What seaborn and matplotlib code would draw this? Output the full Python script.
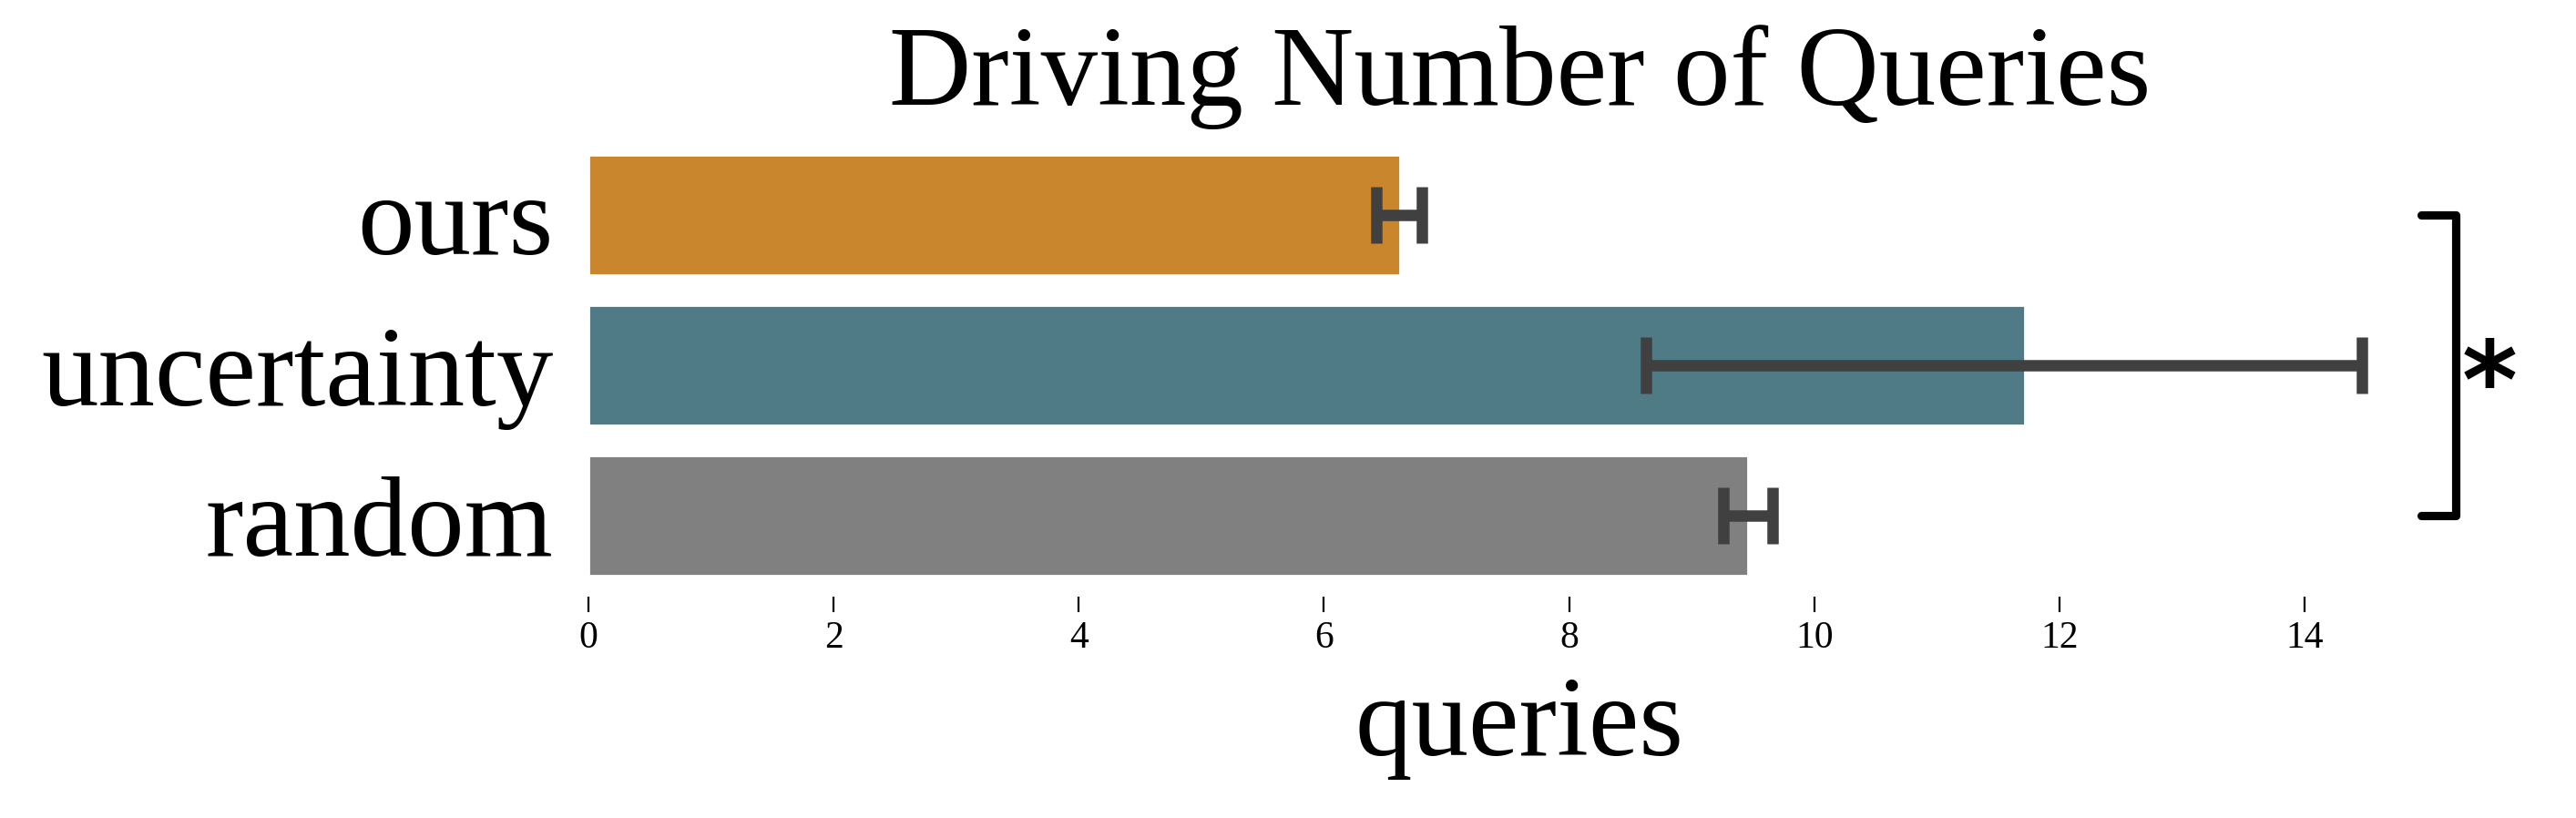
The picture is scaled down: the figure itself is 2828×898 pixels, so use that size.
import numpy as np
import matplotlib
matplotlib.use("Agg")
import matplotlib.pyplot as plt
import seaborn as sns

# values
methods = ["ours", "uncertainty", "random"]
mean_queries = [6.62, 11.72, 9.46]
ci_low = [6.43, 8.63, 9.26]
ci_high = [6.80, 14.47, 9.66]
bar_colors = ["#c9862d", "#4e7b85", "#808080"]
x_ticks = [0, 2, 4, 6, 8, 10, 12, 14]

sns.set_theme(style="white")
plt.rcParams["font.family"] = ["Liberation Serif", "DejaVu Serif"]
plt.rcParams["text.color"] = "black"
plt.rcParams["axes.labelcolor"] = "black"
plt.rcParams["xtick.color"] = "black"
plt.rcParams["ytick.color"] = "black"

fig = plt.figure(figsize=(14.14, 4.49), dpi=200)
ax = fig.add_axes([0.2284, 0.2703, 0.7231, 0.5663])

sns.barplot(x=mean_queries, y=methods, hue=methods, palette=bar_colors,
            saturation=1, legend=False, errorbar=None, orient="h",
            width=0.8, ax=ax)

# error bars (precomputed intervals)
mean_arr = np.array(mean_queries)
xerr = np.vstack([mean_arr - np.array(ci_low), np.array(ci_high) - mean_arr])
ax.errorbar(mean_arr, np.arange(len(methods)), xerr=xerr, fmt="none",
            ecolor="#404040", elinewidth=4.5, capsize=11.2, capthick=4.5)

ax.set_xticks(x_ticks)
ax.tick_params(axis="x", labelsize=15, length=6, width=0.8, color="black",
               labelcolor="black", pad=3.5, bottom=True)
ax.tick_params(axis="y", labelsize=45, length=0, pad=13.7, labelcolor="black")
for s in ax.spines.values():
    s.set_visible(False)

ax.set_title("Driving Number of Queries", fontsize=45, pad=11.5, color="black")
ax.set_xlabel("queries", fontsize=45, labelpad=8, color="black")
ax.set_ylabel("")

# significance bracket between ours and random
trans = ax.get_yaxis_transform()
ax.plot([0.984, 1.0024, 1.0024, 0.984], [0, 0, 2, 2], color="black", lw=3.3,
        transform=trans, clip_on=False, solid_joinstyle="round")
ax.text(1.0205, 1.08, "*", transform=trans, fontsize=42, fontweight="bold",
        family="DejaVu Sans", color="black", ha="center", va="center_baseline")

fig.savefig("out.png", dpi=200)
